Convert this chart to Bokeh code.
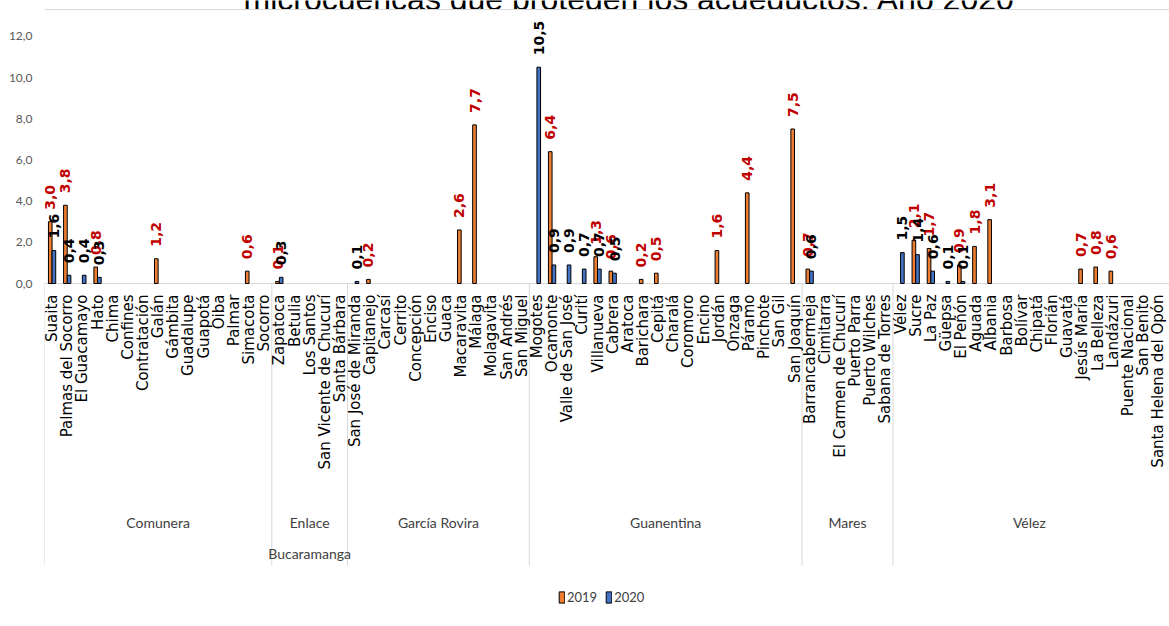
import math
from bokeh.plotting import figure
from bokeh.models import (ColumnDataSource, Range1d, FixedTicker, Legend, LegendItem)
from bokeh.transform import dodge
from bokeh.core.properties import value
from bokeh.embed import file_html
from bokeh.resources import INLINE

# ---------------- data ----------------
title_text = "microcuencas que protegen los acueductos. Año 2020"
years = ["2019", "2020"]

groups = ["Comunera", "Enlace Bucaramanga", "García Rovira", "Guanentina", "Mares", "Vélez"]
group_lines = ["Comunera", "Enlace\nBucaramanga", "García Rovira", "Guanentina", "Mares", "Vélez"]

comunera = ["Suaita", "Palmas del Socorro", "El Guacamayo", "Hato", "Chima", "Confines",
            "Contratación", "Galán", "Gámbita", "Guadalupe", "Guapotá", "Oiba", "Palmar",
            "Simacota", "Socorro"]
comunera_2019 = [3.0, 3.8, 0, 0.8, 0, 0, 0, 1.2, 0, 0, 0, 0, 0, 0.6, 0]
comunera_2020 = [1.6, 0.4, 0.4, 0.3, 0, 0, 0, 0, 0, 0, 0, 0, 0, 0, 0]

enlace = ["Zapatoca", "Betulia", "Los Santos", "San Vicente de Chucurí", "Santa Bárbara"]
enlace_2019 = [0.1, 0, 0, 0, 0]
enlace_2020 = [0.3, 0, 0, 0, 0]

garcia = ["San José de Miranda", "Capitanejo", "Carcasí", "Cerrito", "Concepción", "Enciso",
          "Guaca", "Macaravita", "Málaga", "Molagavita", "San Andrés", "San Miguel"]
garcia_2019 = [0, 0.2, 0, 0, 0, 0, 0, 2.6, 7.7, 0, 0, 0]
garcia_2020 = [0.1, 0, 0, 0, 0, 0, 0, 0, 0, 0, 0, 0]

guanentina = ["Mogotes", "Ocamonte", "Valle de San José", "Curití", "Villanueva", "Cabrera",
              "Aratoca", "Barichara", "Cepitá", "Charalá", "Coromoro", "Encino", "Jordán",
              "Onzaga", "Páramo", "Pinchote", "San Gil", "San Joaquín"]
guanentina_2019 = [0, 6.4, 0, 0, 1.3, 0.6, 0, 0.2, 0.5, 0, 0, 0, 1.6, 0, 4.4, 0, 0, 7.5]
guanentina_2020 = [10.5, 0.9, 0.9, 0.7, 0.7, 0.5, 0, 0, 0, 0, 0, 0, 0, 0, 0, 0, 0, 0]

mares = ["Barrancabermeja", "Cimitarra", "El Carmen de Chucurí", "Puerto Parra",
         "Puerto Wilches", "Sabana de Torres"]
mares_2019 = [0.7, 0, 0, 0, 0, 0]
mares_2020 = [0.6, 0, 0, 0, 0, 0]

velez = ["Vélez", "Sucre", "La Paz", "Güepsa", "El Peñón", "Aguada", "Albania", "Barbosa",
         "Bolívar", "Chipatá", "Florián", "Guavatá", "Jesús María", "La Belleza", "Landázuri",
         "Puente Nacional", "San Benito", "Santa Helena del Opón"]
velez_2019 = [0, 2.1, 1.7, 0, 0.9, 1.8, 3.1, 0, 0, 0, 0, 0, 0.7, 0.8, 0.6, 0, 0, 0]
velez_2020 = [1.5, 1.4, 0.6, 0.1, 0.1, 0, 0, 0, 0, 0, 0, 0, 0, 0, 0, 0, 0, 0]

y_ticks = [0, 2, 4, 6, 8, 10, 12]

# ---------------- assembly ----------------
members = [comunera, enlace, garcia, guanentina, mares, velez]
municipios = sum(members, [])
v2019 = comunera_2019 + enlace_2019 + garcia_2019 + guanentina_2019 + mares_2019 + velez_2019
v2020 = comunera_2020 + enlace_2020 + garcia_2020 + guanentina_2020 + mares_2020 + velez_2020
n = len(municipios)

def fmt(v):
    return f"{v:.1f}".replace(".", ",")

# ---------------- geometry (styles) ----------------
W, H = 1169, 626
FRAME_LEFT = 44
ZERO_PX = 283          # canvas row of value 0
PPU = 20.6             # pixels per unit (y)
X_END = n + 0.25
PXC = (W - FRAME_LEFT) / X_END

def y_px(row):         # canvas pixel row -> data y
    return (ZERO_PX - row) / PPU

def x_px(col):         # canvas pixel column -> data x
    return (col - FRAME_LEFT) / PXC

p = figure(width=W, height=H, output_backend="svg", toolbar_location=None,
           x_range=Range1d(0, X_END), y_range=Range1d(-(H - ZERO_PX) / PPU, ZERO_PX / PPU),
           x_axis_location=None, min_border_left=FRAME_LEFT, min_border_right=0,
           min_border_top=0, min_border_bottom=0, outline_line_color=None,
           background_fill_color="white", border_fill_color="white")
p.xgrid.visible = False
p.ygrid.visible = False

ya = p.yaxis[0]
ya.ticker = FixedTicker(ticks=y_ticks)
ya.major_label_overrides = {t: fmt(t) for t in y_ticks}
ya.axis_line_color = None
ya.major_tick_line_color = None
ya.minor_tick_line_color = None
ya.major_label_standoff = 6
ya.major_label_text_font = "Lato"
ya.major_label_text_font_size = "12px"
ya.major_label_text_color = "#595959"

# title (cut off at the top of the picture, as in the original)
p.text(x=[x_px(629)], y=[y_px(-2)], text=[title_text], text_align="center",
       text_baseline="alphabetic", text_font=value("Liberation Sans"),
       text_font_size="32px", text_color="black")
# the title box ends at the chart's top edge
p.quad(left=[0], right=[X_END], top=[y_px(9.5)], bottom=[y_px(18)],
       fill_color="white", line_color=None)
# chart border (top edge)
p.segment(x0=[0], y0=[y_px(9)], x1=[X_END], y1=[y_px(9)], line_color="#D9D9D9", line_width=1)

# category axis line and group separators
bounds = [0]
for m in members:
    bounds.append(bounds[-1] + len(m))
p.segment(x0=[0], y0=[0], x1=[X_END], y1=[0], line_color="#D9D9D9", line_width=1)
p.segment(x0=bounds[:-1], y0=0, x1=bounds[:-1], y1=y_px(565), line_color="#D9D9D9", line_width=1)

# bars
src19 = ColumnDataSource(dict(x=[i + 0.5 for i, v in enumerate(v2019) if v > 0],
                              top=[v for v in v2019 if v > 0],
                              label=[fmt(v) for v in v2019 if v > 0]))
src20 = ColumnDataSource(dict(x=[i + 0.5 for i, v in enumerate(v2020) if v > 0],
                              top=[v for v in v2020 if v > 0],
                              label=[fmt(v) for v in v2020 if v > 0]))
r19 = p.vbar(x=dodge("x", -0.12, range=p.x_range), top="top", bottom=0, width=0.24,
             source=src19, fill_color="#ED7D31", line_color="black", line_width=1)
r20 = p.vbar(x=dodge("x", 0.12, range=p.x_range), top="top", bottom=0, width=0.24,
             source=src20, fill_color="#4472C4", line_color="black", line_width=1)

# data labels
p.text(x=dodge("x", -0.12, range=p.x_range), y="top", text="label", source=src19,
       angle=math.pi / 2, text_align="left", text_baseline="middle", y_offset=-12,
       text_font=value("DejaVu Sans"), text_font_style="bold", text_font_size="14px",
       text_color="#C00000")
p.text(x=dodge("x", 0.12, range=p.x_range), y="top", text="label", source=src20,
       angle=math.pi / 2, text_align="left", text_baseline="middle", y_offset=-12,
       text_font=value("DejaVu Sans"), text_font_style="bold", text_font_size="14px",
       text_color="black")

# category labels
cat_src = ColumnDataSource(dict(x=[i + 0.5 for i in range(n)], y=[0] * n, name=municipios))
p.text(x="x", y="y", text="name", source=cat_src, angle=math.pi / 2, text_align="right",
       text_baseline="middle", y_offset=11, text_font=value("DejaVu Sans"),
       text_font_size="15px", text_color="black")

# group labels
LINE_GAP = 31
g_src = ColumnDataSource(dict(
    x=[(bounds[i] + bounds[i + 1]) / 2 for i in range(len(groups))],
    y=[y_px(522 + (g.count("\n")) * LINE_GAP / 2) for g in group_lines],
    name=group_lines))
p.text(x="x", y="y", text="name", source=g_src, text_align="center", text_baseline="middle",
       text_font=value("Lato"), text_font_size="14px",
       text_color="#404040", text_line_height=1.855)

legend = Legend(items=[LegendItem(label=years[0], renderers=[r19]),
                       LegendItem(label=years[1], renderers=[r20])],
                orientation="horizontal", location=(514, 21), glyph_width=7, glyph_height=14,
                label_text_font="Lato", label_text_font_size="13px",
                label_text_color="#404040", label_standoff=2, spacing=8, padding=0, margin=0,
                border_line_color=None, background_fill_alpha=0, label_height=14)
p.add_layout(legend)

open("out.html", "w").write(file_html(p, INLINE))
